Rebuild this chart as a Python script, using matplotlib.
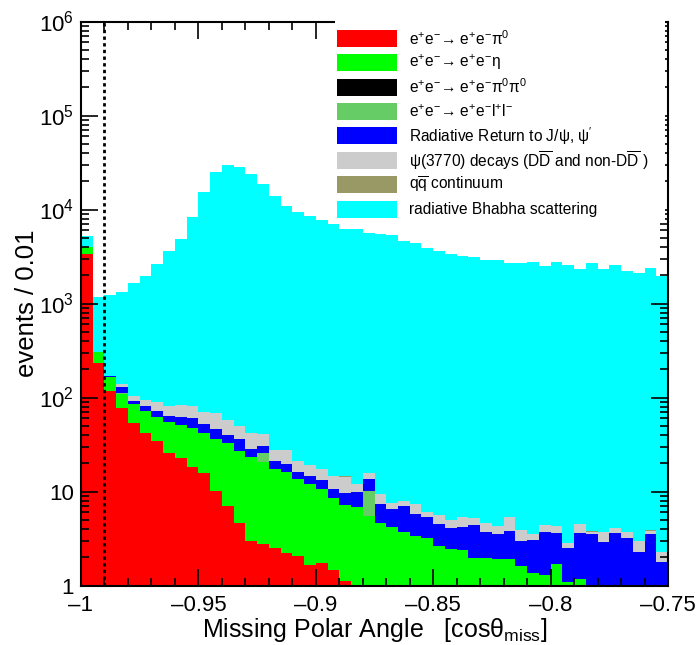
import numpy as np
import matplotlib
matplotlib.use('Agg')
import matplotlib.pyplot as plt
from matplotlib.patches import Rectangle
from matplotlib.ticker import FixedLocator, NullFormatter, FuncFormatter

plt.rcParams['font.family'] = ['Liberation Sans', 'DejaVu Sans']
plt.rcParams['mathtext.fontset'] = 'custom'
plt.rcParams['mathtext.rm'] = 'Liberation Sans'
plt.rcParams['mathtext.it'] = 'Liberation Sans:italic'
plt.rcParams['mathtext.default'] = 'regular'

# binning: 50 bins of 0.005 from -1 to -0.75
edges = np.linspace(-1.0, -0.75, 51)
cut = -0.99

# per-bin contributions
pi0 = [3360, 231, 117, 77, 54, 41.6, 34.5, 25.5, 22.5, 18.2,
       15.6, 10.1, 7.06, 4.59, 3.0, 2.74, 2.52, 2.23, 2.06, 1.65,
       1.72, 1.46, 1.12, 0, 0, 0, 0, 0, 0, 0,
       0, 0, 0, 0, 0, 0, 0, 0, 0, 0,
       0, 0, 0, 0, 0, 0, 0, 0, 0, 0]
eta = [600, 72, 47, 32, 31, 30.2, 28, 29, 28.5, 28.8,
       26.6, 25.8, 25.9, 22.4, 20.5, 18, 14.9, 13.8, 11.4, 10.3,
       8.9, 7.0, 6.06, 6.79, 5.49, 4.59, 4.16, 3.73, 3.39, 3.18,
       2.63, 2.43, 2.39, 1.95, 1.95, 1.90, 1.90, 1.62, 1.35, 1.29,
       1.69, 1.1, 1.16, 0, 0, 0, 0, 0, 0, 0]
pi0pi0 = [0] * 50
llbar = [0, 0, 0, 4, 0, 0, 0, 0, 0, 0,
         0, 0, 0, 0, 0, 4.8, 0, 0, 0, 0,
         0, 0, 0, 0, 4.7, 0, 0, 0, 0, 0,
         0, 0, 0, 0, 0, 0, 0, 0, 0, 0,
         0, 0, 0, 0, 0, 0, 0, 0, 0, 0]
radret = [0, 5, 7, 15, 7, 9.2, 8.8, 9.5, 11.5, 13,
          10.1, 10, 6.6, 8.9, 4.8, 5, 3.9, 3.5, 2.5, 2.7,
          2.7, 2.1, 2.4, 3.0, 3.3, 2.77, 2.35, 3.28, 2.33, 2.22,
          1.88, 1.69, 1.83, 2.45, 1.76, 1.61, 1.90, 1.38, 1.70, 2.39,
          1.90, 1.39, 2.43, 3.51, 2.92, 3.59, 3.18, 2.29, 3.51, 1.77]
psi3770 = [0, 0, 0, 10, 12, 13, 18.3, 17, 20.5, 21,
           18.3, 22, 18, 14.2, 13.3, 10.1, 6.3, 8.1, 5.1, 4.5,
           3.9, 4.0, 4.8, 2.1, 2.1, 1.98, 1.09, 0.92, 1.59, 0.7,
           1.11, 0.86, 1.18, 0.79, 0.88, 0.79, 1.52, 0.89, 0.46, 0.72,
           0.74, 0.32, 0.92, 0.22, 0.81, 0.47, 0.50, 0.68, 0.32, 0.48]
qqbar = [0, 0, 0, 0, 0, 0, 0, 0, 0.4, 0,
         0, 0, 0, 0, 0, 0, 0, 0.2, 0, 0,
         0, 0, 0.1, 0, 0.2, 0, 0, 0, 0.05, 0,
         0, 0, 0, 0, 0, 0, 0, 0, 0.03, 0.03,
         0, 0, 0, 0.03, 0, 0, 0, 0, 0.03, 0]
bhabha = [1270, 868, 1059, 1197, 1536, 1869, 2520, 3539, 4737, 8179,
          15170, 24830, 29640, 28450, 23860, 18760, 13770, 10940, 9460, 8510,
          7650, 7045, 6196, 6198, 5644, 5490, 5350, 4655, 4363, 3914,
          3645, 3355, 3195, 3095, 2895, 2875, 2715, 2676, 2766, 2516,
          2736, 2567, 2325, 2676, 2316, 2556, 2216, 2126, 2386, 1958]

labels = [r'e$^{+}$e$^{-}$→ e$^{+}$e$^{-}\pi^{0}$',
          r'e$^{+}$e$^{-}$→ e$^{+}$e$^{-}\eta$',
          r'e$^{+}$e$^{-}$→ e$^{+}$e$^{-}\pi^{0}\pi^{0}$',
          r'e$^{+}$e$^{-}$→ e$^{+}$e$^{-}$l$^{+}$l$^{-}$',
          r'Radiative Return to J/$\psi$, $\psi^{\prime}$',
          r'$\psi$(3770) decays (D$\overline{D}$ and non-D$\overline{D}$ )',
          r'q$\overline{q}$ continuum',
          'radiative Bhabha scattering']
colors = ['#ff0000', '#00ff00', '#000000', '#66cc66',
          '#0000ff', '#cccccc', '#999966', '#00ffff']
series = [pi0, eta, pi0pi0, llbar, radret, psi3770, qqbar, bhabha]

xticks = [-1, -0.95, -0.9, -0.85, -0.8, -0.75]
yticks = [1, 10, 1e2, 1e3, 1e4, 1e5, 1e6]

fig = plt.figure(figsize=(6.96, 6.45), dpi=100)
ax = fig.add_axes([81/696, 1 - 585.5/645, 587/696, 564/645])
ax.set_yscale('log')

width = np.diff(edges)
bottom = np.zeros(50)
for vals, c in zip(series, colors):
    vals = np.asarray(vals, dtype=float)
    ax.bar(edges[:-1], vals, width=width, bottom=bottom, align='edge',
           color=c, linewidth=0)
    bottom = bottom + vals

ax.axvline(cut, color='black', linestyle=(0, (1.2, 1.2)), linewidth=2)

ax.set_xlim(-1.0, -0.75)
ax.set_ylim(1, 1e6)

ax.xaxis.set_major_locator(FixedLocator(xticks))
ax.xaxis.set_minor_locator(FixedLocator(np.arange(-1, -0.749, 0.01)))
ax.xaxis.set_major_formatter(FuncFormatter(lambda v, p: ('%g' % v).replace('-', '\u2013')))

def ylab(v, p):
    e = int(round(np.log10(v)))
    if e == 0:
        return '1'
    if e == 1:
        return '10'
    return r'$10^{%d}$' % e

minor_y = [m * 10**e for e in range(0, 6) for m in range(2, 10)]
ax.yaxis.set_major_locator(FixedLocator(yticks))
ax.yaxis.set_minor_locator(FixedLocator(minor_y))
ax.yaxis.set_minor_formatter(NullFormatter())
ax.yaxis.set_major_formatter(FuncFormatter(ylab))

ax.tick_params(which='both', direction='in', top=True, right=True, width=1.2)
ax.tick_params(which='major', length=12, labelsize=16, pad=5)
ax.tick_params(which='minor', length=6)
ax.tick_params(axis='x', which='major', pad=7)
for s in ax.spines.values():
    s.set_linewidth(1.5)

ax.set_xlabel(r'Missing Polar Angle   [cos$\theta_{miss}$]', fontsize=18)
ax.xaxis.set_label_coords(0.5, -0.054)
ax.set_ylabel('events / 0.01', fontsize=18.5)
ax.yaxis.set_label_coords(-0.072, 0.5)

# legend drawn by hand, in pixel coordinates of the figure
W, H = 696, 645
fig.patches.append(Rectangle((335/W, 1 - 222/H), 330/W, 204/H,
                             transform=fig.transFigure, facecolor='white',
                             edgecolor='none', zorder=5))
for k, (lab, c) in enumerate(zip(labels, colors)):
    yc = 38.3 + 24.4 * k
    fig.patches.append(Rectangle((337/W, 1 - (yc + 8.5)/H), 60/W, 17/H,
                                 transform=fig.transFigure, facecolor=c,
                                 edgecolor='none', zorder=6))
    fig.text(409/W, 1 - yc/H, lab, fontsize=11.2, va='center', ha='left', zorder=7)

fig.savefig('out.png', dpi=100)
